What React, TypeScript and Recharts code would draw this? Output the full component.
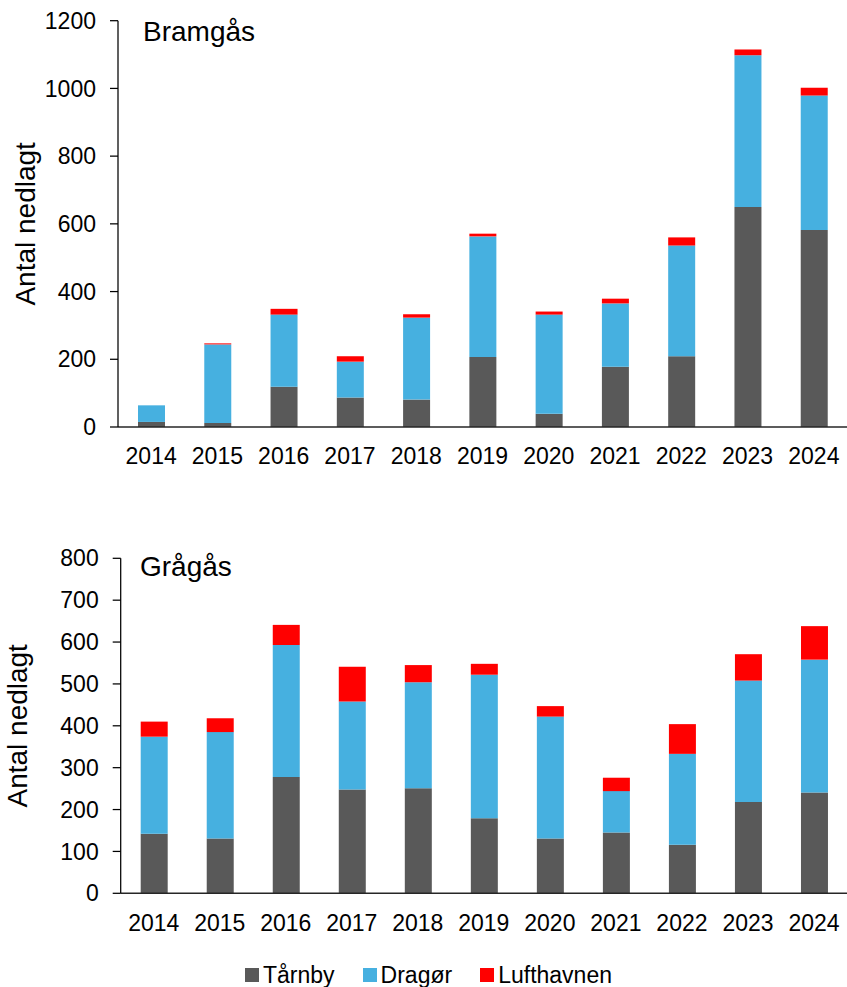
import { BarChart, Bar, XAxis, YAxis } from 'recharts';

const years = ['2014', '2015', '2016', '2017', '2018', '2019', '2020', '2021', '2022', '2023', '2024'];

// Bramgås
const bramTarnby = [15, 12, 119, 87, 81, 207, 39, 178, 209, 650, 582];
const bramDragor = [49, 232, 213, 106, 242, 356, 293, 187, 327, 448, 397];
const bramLuft = [0, 3, 17, 16, 10, 8, 9, 14, 24, 17, 23];
const bramTicks = [0, 200, 400, 600, 800, 1000, 1200];

// Grågås
const graTarnby = [142, 131, 278, 248, 251, 179, 131, 145, 116, 218, 241];
const graDragor = [232, 254, 315, 210, 253, 343, 291, 99, 217, 290, 317];
const graLuft = [36, 33, 48, 83, 41, 26, 25, 32, 71, 63, 80];
const graTicks = [0, 100, 200, 300, 400, 500, 600, 700, 800];

const series = [
  { key: 'tarnby', name: 'Tårnby', color: '#595959' },
  { key: 'dragor', name: 'Dragør', color: '#46B0E0' },
  { key: 'luft', name: 'Lufthavnen', color: '#FF0000' },
];

const font = '"Liberation Sans", Arial, sans-serif';

const bramData = years.map((year, i) => ({ year, tarnby: bramTarnby[i], dragor: bramDragor[i], luft: bramLuft[i] }));
const graData = years.map((year, i) => ({ year, tarnby: graTarnby[i], dragor: graDragor[i], luft: graLuft[i] }));

const yLabel = (cx: number) => (props: any) => {
  const vb = props.viewBox || { y: 0, height: 0 };
  const cy = vb.y + vb.height / 2;
  return (
    <text x={cx} y={cy} transform={`rotate(-90, ${cx}, ${cy})`} textAnchor="middle" dominantBaseline="central"
      fontSize={28} fill="#000" fontFamily={font}>
      Antal nedlagt
    </text>
  );
};

function StackChart({ data, ticks, max, height, top, axisW, labelX }: {
  data: any[]; ticks: number[]; max: number; height: number; top: number; axisW: number; labelX: number;
}) {
  return (
    <BarChart width={847} height={height} data={data} margin={{ top, right: 0, bottom: 0, left: 0 }} barSize={27}>
      <XAxis dataKey="year" interval={0} height={52} tickLine={false} tickSize={0} tickMargin={21}
        axisLine={{ stroke: '#262626', strokeWidth: 1.5 }}
        tick={{ fill: '#000', fontSize: 23, fontFamily: font }} />
      <YAxis type="number" domain={[0, max]} ticks={ticks} width={axisW} tickSize={8} tickMargin={14}
        axisLine={{ stroke: '#000', strokeWidth: 1.25 }} tickLine={{ stroke: '#000', strokeWidth: 1.25 }}
        tick={{ fill: '#000', fontSize: 23, fontFamily: font }}
        label={{ content: yLabel(labelX) }} />
      {series.map((s) => (
        <Bar key={s.key} dataKey={s.key} name={s.name} stackId="a" fill={s.color} isAnimationActive={false} />
      ))}
    </BarChart>
  );
}

export default function App() {
  return (
    <div style={{ position: 'absolute', left: 0, top: 0, width: 847, height: 987, background: '#fff', fontFamily: font, overflow: 'hidden' }}>
      <div style={{ position: 'absolute', left: 0, top: 0 }}>
        <StackChart data={bramData} ticks={bramTicks} max={1200} height={479} top={20.7} axisW={118} labelX={26} />
      </div>
      <div style={{ position: 'absolute', left: 143, top: 17.8, fontSize: 28, lineHeight: 1, color: '#000' }}>Bramgås</div>

      <div style={{ position: 'absolute', left: 0, top: 530 }}>
        <StackChart data={graData} ticks={graTicks} max={800} height={415.3} top={28.3} axisW={120.7} labelX={17} />
      </div>
      <div style={{ position: 'absolute', left: 140, top: 553.3, fontSize: 28, lineHeight: 1, color: '#000' }}>Grågås</div>

      <div style={{ position: 'absolute', left: 245, top: 963, display: 'flex', alignItems: 'center', fontSize: 23, lineHeight: '24px', color: '#000' }}>
        {series.map((s, i) => (
          <div key={s.key} style={{ display: 'flex', alignItems: 'center', marginLeft: i === 0 ? 0 : 28 }}>
            <span style={{ display: 'inline-block', width: 14, height: 14, background: s.color, marginRight: 4 }} />
            <span>{s.name}</span>
          </div>
        ))}
      </div>
    </div>
  );
}
